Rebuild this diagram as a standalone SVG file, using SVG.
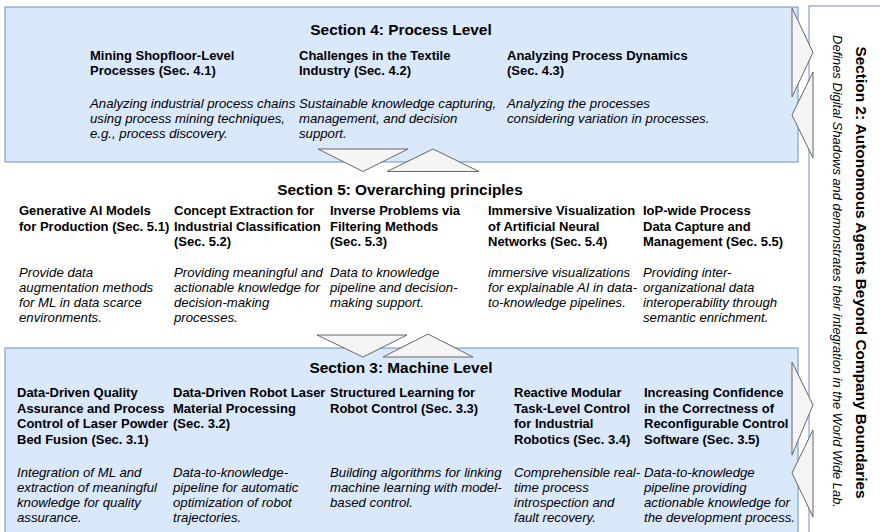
<svg xmlns="http://www.w3.org/2000/svg" width="880" height="532" viewBox="0 0 880 532">
<style>
text{font-family:"Liberation Sans",Arial,Helvetica,sans-serif;fill:#000}
.sec{fill:#dae8fc;stroke:#6c8ebf;stroke-width:1}
.side{fill:#ffffff;stroke:#6c8ebf;stroke-width:1}
.title{font-size:15.4px;font-weight:bold;text-anchor:middle}
.h{font-size:13px;font-weight:bold}
.d{font-size:13.2px;font-style:italic}
.sd{font-size:12.9px;font-style:italic;text-anchor:middle}
.tri{fill:#f5f5f5;stroke:#666666;stroke-width:1}
</style>
<rect width="880" height="532" fill="#ffffff"/>

<g id="section2">
<rect class="side" x="809" y="6" width="90" height="545"/>
<text class="title" transform="translate(856,272.5) rotate(90)">Section 2: Autonomous Agents Beyond Company Boundaries</text>
<text class="sd" transform="translate(833,271.5) rotate(90)">Defines Digital Shadows and demonstrates their integration in the World Wide Lab.</text>
</g>

<g id="section4">
<rect class="sec" x="5" y="7" width="793" height="155"/>
<text class="title" x="401" y="35">Section 4: Process Level</text>
<g id="s41">
<text class="h" x="90" y="59.5">Mining Shopfloor-Level</text>
<text class="h" x="90" y="75">Processes (Sec. 4.1)</text>
<text class="d" x="90" y="108.3">Analyzing industrial process chains</text>
<text class="d" x="90" y="123.3">using process mining techniques,</text>
<text class="d" x="90" y="138.3">e.g., process discovery.</text>
</g>
<g id="s42">
<text class="h" x="299" y="59.5">Challenges in the Textile</text>
<text class="h" x="299" y="75">Industry (Sec. 4.2)</text>
<text class="d" x="299" y="108.3">Sustainable knowledge capturing,</text>
<text class="d" x="299" y="123.3">management, and decision</text>
<text class="d" x="299" y="138.3">support.</text>
</g>
<g id="s43">
<text class="h" x="507" y="59.5">Analyzing Process Dynamics</text>
<text class="h" x="507" y="75">(Sec. 4.3)</text>
<text class="d" x="507" y="108.3">Analyzing the processes</text>
<text class="d" x="507" y="123.3">considering variation in processes.</text>
</g>
</g>

<g id="section5">
<text class="title" x="400" y="195">Section 5: Overarching principles</text>
<g id="s51">
<text class="h" x="19" y="215">Generative AI Models</text>
<text class="h" x="19" y="230.7">for Production (Sec. 5.1)</text>
<text class="d" x="19" y="276.7">Provide data</text>
<text class="d" x="19" y="291.7">augmentation methods</text>
<text class="d" x="19" y="306.7">for ML in data scarce</text>
<text class="d" x="19" y="321.7">environments.</text>
</g>
<g id="s52">
<text class="h" x="174" y="215">Concept Extraction for</text>
<text class="h" x="174" y="230.7">Industrial Classification</text>
<text class="h" x="174" y="246.4">(Sec. 5.2)</text>
<text class="d" x="174" y="276.7">Providing meaningful and</text>
<text class="d" x="174" y="291.7">actionable knowledge for</text>
<text class="d" x="174" y="306.7">decision-making</text>
<text class="d" x="174" y="321.7">processes.</text>
</g>
<g id="s53">
<text class="h" x="330" y="215">Inverse Problems via</text>
<text class="h" x="330" y="230.7">Filtering Methods</text>
<text class="h" x="330" y="246.4">(Sec. 5.3)</text>
<text class="d" x="330" y="276.7">Data to knowledge</text>
<text class="d" x="330" y="291.7">pipeline and decision-</text>
<text class="d" x="330" y="306.7">making support.</text>
</g>
<g id="s54">
<text class="h" x="488" y="215">Immersive Visualization</text>
<text class="h" x="488" y="230.7">of Artificial Neural</text>
<text class="h" x="488" y="246.4">Networks (Sec. 5.4)</text>
<text class="d" x="488" y="276.7">immersive visualizations</text>
<text class="d" x="488" y="291.7">for explainable AI in data-</text>
<text class="d" x="488" y="306.7">to-knowledge pipelines.</text>
</g>
<g id="s55">
<text class="h" x="643" y="215">IoP-wide Process</text>
<text class="h" x="643" y="230.7">Data Capture and</text>
<text class="h" x="643" y="246.4">Management (Sec. 5.5)</text>
<text class="d" x="643" y="276.7">Providing inter-</text>
<text class="d" x="643" y="291.7">organizational data</text>
<text class="d" x="643" y="306.7">interoperability through</text>
<text class="d" x="643" y="321.7">semantic enrichment.</text>
</g>
</g>

<g id="section3">
<rect class="sec" x="5" y="348" width="793" height="200"/>
<text class="title" x="401" y="373.3">Section 3: Machine Level</text>
<g id="s31">
<text class="h" x="17" y="397.3">Data-Driven Quality</text>
<text class="h" x="17" y="412.8">Assurance and Process</text>
<text class="h" x="17" y="428.3">Control of Laser Powder</text>
<text class="h" x="17" y="443.8">Bed Fusion (Sec. 3.1)</text>
<text class="d" x="17" y="476.7">Integration of ML and</text>
<text class="d" x="17" y="491.7">extraction of meaningful</text>
<text class="d" x="17" y="506.7">knowledge for quality</text>
<text class="d" x="17" y="521.7">assurance.</text>
</g>
<g id="s32">
<text class="h" x="173" y="397.3">Data-Driven Robot Laser</text>
<text class="h" x="173" y="412.8">Material Processing</text>
<text class="h" x="173" y="428.3">(Sec. 3.2)</text>
<text class="d" x="173" y="476.7">Data-to-knowledge-</text>
<text class="d" x="173" y="491.7">pipeline for automatic</text>
<text class="d" x="173" y="506.7">optimization of robot</text>
<text class="d" x="173" y="521.7">trajectories.</text>
</g>
<g id="s33">
<text class="h" x="330" y="397.3">Structured Learning for</text>
<text class="h" x="330" y="412.8">Robot Control (Sec. 3.3)</text>
<text class="d" x="330" y="476.7">Building algorithms for linking</text>
<text class="d" x="330" y="491.7">machine learning with model-</text>
<text class="d" x="330" y="506.7">based control.</text>
</g>
<g id="s34">
<text class="h" x="514" y="397.3">Reactive Modular</text>
<text class="h" x="514" y="412.8">Task-Level Control</text>
<text class="h" x="514" y="428.3">for Industrial</text>
<text class="h" x="514" y="443.8">Robotics (Sec. 3.4)</text>
<text class="d" x="514" y="476.7">Comprehensible real-</text>
<text class="d" x="514" y="491.7">time process</text>
<text class="d" x="514" y="506.7">introspection and</text>
<text class="d" x="514" y="521.7">fault recovery.</text>
</g>
<g id="s35">
<text class="h" x="644" y="397.3">Increasing Confidence</text>
<text class="h" x="644" y="412.8">in the Correctness of</text>
<text class="h" x="644" y="428.3">Reconfigurable Control</text>
<text class="h" x="644" y="443.8">Software (Sec. 3.5)</text>
<text class="d" x="644" y="476.7">Data-to-knowledge</text>
<text class="d" x="644" y="491.7">pipeline providing</text>
<text class="d" x="644" y="506.7">actionable knowledge for</text>
<text class="d" x="644" y="521.7">the development process.</text>
</g>
</g>

<g id="connectors">
<polygon class="tri" points="318,149 408,149 363,171.5"/>
<polygon class="tri" points="433,149 479,171.5 387,171.5"/>
<polygon class="tri" points="317,335 407,335 363,357"/>
<polygon class="tri" points="428,334 473,357 383,357"/>
<polygon class="tri" points="792,8 813,52.5 792,97"/>
<polygon class="tri" points="813,72 813,158 792,115"/>
<polygon class="tri" points="792,362 813,405 792,455"/>
<polygon class="tri" points="813,430 813,517 792,473"/>
</g>
</svg>
